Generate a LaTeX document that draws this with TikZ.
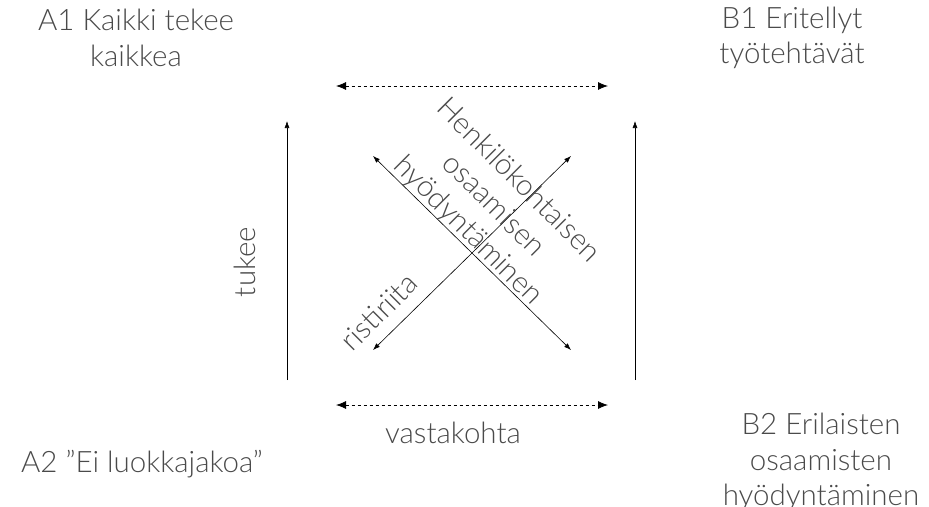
\documentclass[tikz,border=0pt]{standalone}
\usepackage{fontspec}
\setmainfont{Lato}[UprightFont=* Light]
\usetikzlibrary{arrows.meta}
\definecolor{txt}{HTML}{4A4A4A}
\begin{document}
\begin{tikzpicture}[x=1pt,y=-1pt,
  lbl/.style={text=txt,font=\fontsize{29.5}{35.5}\selectfont,align=center,inner sep=0pt},
  dashedarrow/.style={thick,dash pattern=on 3.5pt off 2.5pt,{Latex[length=10pt,width=8pt]}-{Latex[length=10pt,width=8pt]}},
  solidarrow/.style={semithick,-{Latex[length=7pt,width=5pt]}},
  bothsolid/.style={semithick,{Latex[length=7pt,width=5pt]}-{Latex[length=7pt,width=5pt]}}]
\useasboundingbox (0,0) rectangle (929,506);
% corner labels
\node[lbl] (a1) at (136,38) {A1 Kaikki tekee\\kaikkea};
\node[lbl] (b1) at (792,38) {B1 Eritellyt\\työtehtävät};
\node[lbl] (a2) at (142,464) {A2 "Ei luokkajakoa"};
\node[lbl] (b2) at (821,462) {B2 Erilaisten\\osaamisten\\hyödyntäminen};
% arrow end points
\coordinate (tl) at (336,86);  \coordinate (tr) at (608,86);
\coordinate (bl) at (336,405); \coordinate (br) at (608,405);
\coordinate (lb) at (287,380); \coordinate (lt) at (287,121);
\coordinate (rb) at (635,380); \coordinate (rt) at (635,121);
\coordinate (d1a) at (373,350); \coordinate (d1b) at (571,156);
\coordinate (d2a) at (373,156); \coordinate (d2b) at (571,350);
% arrows
\draw[dashedarrow] (tl) -- (tr);
\draw[dashedarrow] (bl) -- (br);
\draw[solidarrow] (lb) -- (lt);
\draw[solidarrow] (rb) -- (rt);
\draw[bothsolid] (d1a) -- (d1b);
\draw[bothsolid] (d2a) -- (d2b);
% arrow labels
\node[lbl,rotate=90] (tukee) at (245,262) {tukee};
\node[lbl] (vasta) at (453,433) {vastakohta};
\node[lbl,rotate=45] (risti) at (379,312) {ristiriita};
\node[lbl,rotate=-45] (henk) at (493,206) {Henkilökohtaisen\\osaamisen\\hyödyntäminen};
\end{tikzpicture}
\end{document}
